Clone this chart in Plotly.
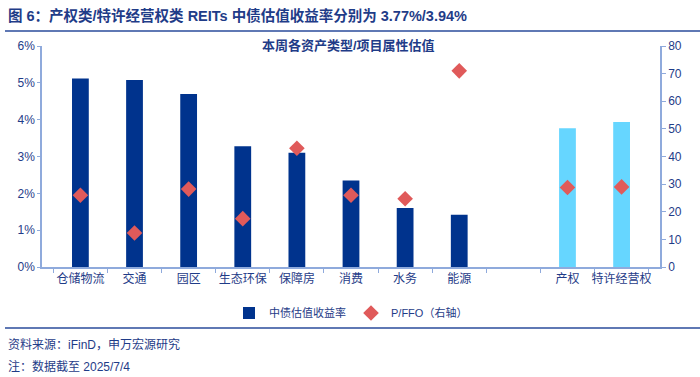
import plotly.graph_objects as go

categories = ["仓储物流", "交通", "园区", "生态环保", "保障房", "消费", "水务", "能源", " ", "产权", "特许经营权"]
yield_pct = [5.12, 5.08, 4.70, 3.28, 3.10, 2.35, 1.60, 1.42, None, 3.77, 3.94]
pffo = [26.0, 12.3, 28.2, 17.5, 43.0, 26.0, 24.7, 71.0, None, 28.8, 29.0]
bar_colors = ["#00338D"] * 9 + ["#66D6FF", "#66D6FF"]

FONT = "Liberation Sans, Arial, Noto Sans CJK SC"
TXT = "#1F3C88"
AX = "#8FAADC"

L, R, T, B = 42, 40, 46, 110
PW = 700 - L - R
PH = 377 - T - B

def px(xp):
    return (xp - L) / PW

def py(yp):
    return (377 - B - yp) / PH

fig = go.Figure()
fig.add_trace(go.Bar(
    x=categories, y=[v / 100 if v is not None else None for v in yield_pct],
    name="中债估值收益率", marker=dict(color=bar_colors, line=dict(width=0)),
    width=0.31, yaxis="y",
))
fig.add_trace(go.Scatter(
    x=categories, y=pffo, name="P/FFO（右轴）", mode="markers",
    marker=dict(symbol="diamond", size=12, color="#E05A5A", line=dict(width=0)),
    yaxis="y2",
))

fig.update_layout(
    width=700, height=377,
    margin=dict(l=L, r=R, t=T, b=B, autoexpand=False),
    paper_bgcolor="white", plot_bgcolor="white",
    font=dict(family=FONT, size=12, color=TXT),
    showlegend=True,
    legend=dict(orientation="h", x=0.5, xanchor="center", y=py(313), yanchor="middle",
                font=dict(size=11, color=TXT), itemwidth=30, traceorder="normal",
                bgcolor="rgba(0,0,0,0)"),
    xaxis=dict(type="category", showline=True, linecolor=AX, linewidth=1.5,
               ticks="outside", tickson="boundaries", ticklen=4, tickcolor=AX,
               tickangle=0, automargin=False,
               tickfont=dict(size=12, color=TXT), showgrid=False),
    yaxis=dict(range=[0, 0.06], dtick=0.01, tickformat=".0%", showline=True,
               linecolor=AX, linewidth=1.5, ticks="outside", ticklen=3, tickcolor=AX,
               automargin=False,
               showgrid=False, zeroline=False, tickfont=dict(size=12, color=TXT)),
    yaxis2=dict(range=[0, 80], dtick=10, overlaying="y", side="right", showline=True,
                linecolor=AX, linewidth=1.5, ticks="outside", ticklen=4, tickcolor=AX,
                automargin=False,
                showgrid=False, zeroline=False, tickfont=dict(size=12, color=TXT)),
    bargap=0.5,
)

fig.add_annotation(text="<b>图 6：产权类/特许经营权类 REITs 中债估值收益率分别为 3.77%/3.94%</b>",
                   xref="paper", yref="paper", x=px(6), y=py(15), xanchor="left", yanchor="middle",
                   showarrow=False, font=dict(size=14.5, color="#1F3C88", family=FONT))
fig.add_annotation(text="<b>本周各资产类型/项目属性估值</b>",
                   xref="paper", yref="paper", x=px(348), y=py(45), xanchor="center", yanchor="middle",
                   showarrow=False, font=dict(size=13, color="#1F3C88", family=FONT))
fig.add_annotation(text="资料来源：iFinD，申万宏源研究",
                   xref="paper", yref="paper", x=px(6), y=py(344), xanchor="left", yanchor="middle",
                   showarrow=False, font=dict(size=12, color=TXT, family=FONT))
fig.add_annotation(text="注：数据截至 2025/7/4",
                   xref="paper", yref="paper", x=px(6), y=py(366), xanchor="left", yanchor="middle",
                   showarrow=False, font=dict(size=12, color=TXT, family=FONT))

fig.add_shape(type="line", xref="paper", yref="paper", x0=px(5), x1=px(700),
              y0=py(31), y1=py(31), line=dict(color="#2A4B9B", width=1.5))
fig.add_shape(type="line", xref="paper", yref="paper", x0=px(5), x1=px(700),
              y0=py(328), y1=py(328), line=dict(color="#2A4B9B", width=1.5))

fig.write_html("out.html", config={"displayModeBar": False},
               post_script="document.body.style.margin='0';document.body.style.overflow='hidden';")
